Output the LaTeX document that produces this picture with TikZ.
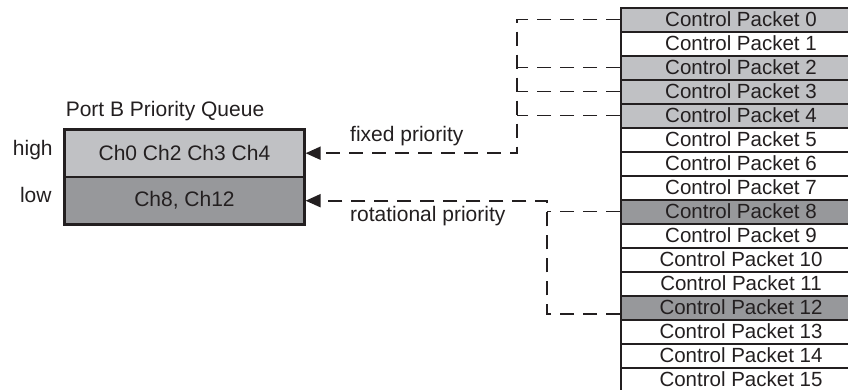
\documentclass[tikz,border=0pt]{standalone}
\usepackage{fontspec}
\setmainfont{Liberation Sans}
\usetikzlibrary{arrows.meta}
\definecolor{lightg}{HTML}{C0C1C4}
\definecolor{darkg}{HTML}{97989B}
\definecolor{ink}{HTML}{231F20}
\tikzset{
  pkt/.style={draw=ink, line width=2pt, minimum width=240pt, minimum height=24pt, inner sep=0pt, anchor=north west, font=\fontsize{20.5}{21}\selectfont, text=ink},
  qbox/.style={draw=ink, line width=2.3pt, minimum width=240pt, minimum height=47.5pt, inner sep=0pt, anchor=north west, font=\fontsize{21}{22}\selectfont, text=ink},
  lbl/.style={font=\fontsize{21}{22}\selectfont, text=ink, inner sep=0pt},
  dline/.style={draw=ink, line width=1.9pt, dash pattern=on 14pt off 9pt},
  arr/.style={-{Triangle[length=15pt,width=13pt]}}
}
\begin{document}
\begin{tikzpicture}[x=1pt,y=-1pt]
\useasboundingbox (0,0) rectangle (848,389);
% packets
\foreach \i in {0,...,15}{
  \pgfmathsetmacro{\yy}{6.5+\i*24.0}
  \ifnum\i=0 \def\fc{lightg}\else
  \ifnum\i=2 \def\fc{lightg}\else
  \ifnum\i=3 \def\fc{lightg}\else
  \ifnum\i=4 \def\fc{lightg}\else
  \ifnum\i=8 \def\fc{darkg}\else
  \ifnum\i=12 \def\fc{darkg}\else
  \def\fc{white}\fi\fi\fi\fi\fi\fi
  \node[pkt, fill=\fc] (p\i) at (620,\yy) {Control Packet \i};
}
% queue
\node[qbox, fill=lightg] (qhigh) at (63.3,128.3) {Ch0 Ch2 Ch3 Ch4};
\node[qbox, fill=darkg] (qlow) at (63.3,175.8) {Ch8, Ch12};
\node[lbl, anchor=base] (title) at (165,116) {Port B Priority Queue};
\node[lbl, anchor=base] (high) at (32.8,155) {high};
\node[lbl, anchor=base] (low) at (35.8,202.7) {low};
\node[lbl, anchor=base west] (fixed) at (350,141) {fixed priority};
\node[lbl, anchor=base west] (rot) at (350,221.7) {rotational priority};
% coordinates for vertical runs
\coordinate (fx) at (517,0);
\coordinate (rx) at (546.7,0);
% fixed priority
\draw[dline, arr] (p0.west) -| (fx |- qhigh.east) -- (qhigh.east);
\draw[dline] (p2.west) -- (fx |- p2.west);
\draw[dline] (p3.west) -- (fx |- p3.west);
\draw[dline] (p4.west) -- (fx |- p4.west);
% rotational priority
\draw[dline, arr] ([yshift=-6.5pt]p12.west) -| (rx |- qlow.east) -- (qlow.east);
\draw[dline] (p8.west) -- (rx |- p8.west);
\end{tikzpicture}
\end{document}
